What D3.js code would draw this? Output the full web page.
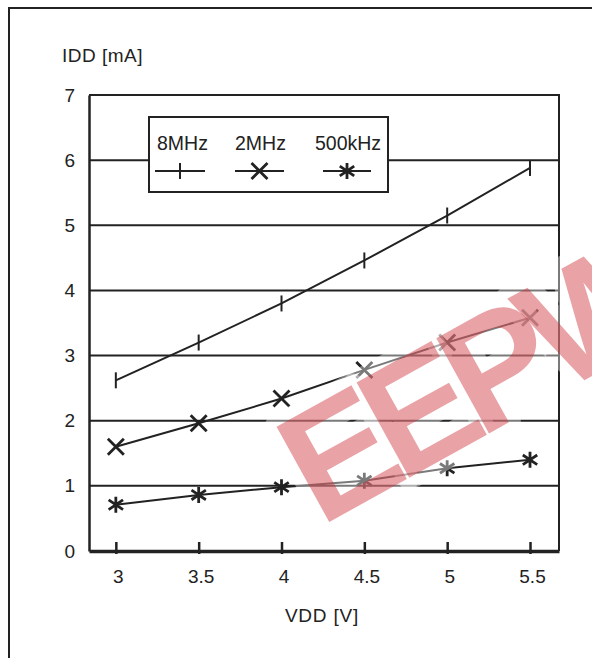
<!DOCTYPE html>
<html>
<head>
<meta charset="utf-8">
<script src="https://cdn.jsdelivr.net/npm/d3@7"></script>
<style>
  body { margin: 0; background: #fff; }
  svg { display: block; font-family: "Liberation Sans", Arial, sans-serif; }
</style>
</head>
<body>
<div id="chart"></div>
<script>
// supply current vs supply voltage, three clock frequencies
const vdd = [3, 3.5, 4, 4.5, 5, 5.5];
const idd8MHz = [2.62, 3.2, 3.8, 4.46, 5.15, 5.88];
const idd2MHz = [1.6, 1.96, 2.34, 2.78, 3.2, 3.58];
const idd500kHz = [0.71, 0.86, 0.98, 1.08, 1.27, 1.4];
const seriesNames = ["8MHz", "2MHz", "500kHz"];
const yTicks = [0, 1, 2, 3, 4, 5, 6, 7];

const W = 592, H = 658;
const M = {top: 95, left: 89, right: 559, bottom: 551};
const INK = "#222";
const FONT = "Liberation Sans, Arial, sans-serif";

const svg = d3.select("#chart").append("svg")
    .attr("width", W).attr("height", H);

// outer frame (right / bottom run off the page)
svg.append("rect")
    .attr("x", 9).attr("y", 8).attr("width", W).attr("height", H)
    .attr("fill", "none").attr("stroke", INK).attr("stroke-width", 2);

const x = d3.scaleLinear([2.838, 5.675], [M.left, M.right]);
const y = d3.scaleLinear([0, 7], [M.bottom, M.top]);

// horizontal grid lines
svg.append("g").selectAll("line")
    .data(yTicks.filter(d => d > 0 && d < 7))
    .join("line")
    .attr("x1", M.left).attr("x2", M.right)
    .attr("y1", d => y(d)).attr("y2", d => y(d))
    .attr("stroke", INK).attr("stroke-width", 2);

// plot frame: top and right
svg.append("path")
    .attr("d", `M${M.left},${y(7)}H${M.right}V${M.bottom}`)
    .attr("fill", "none").attr("stroke", INK).attr("stroke-width", 2);

// y axis
const yAxis = svg.append("g")
    .attr("transform", `translate(${M.left},0)`)
    .call(d3.axisLeft(y).tickValues(yTicks).tickSize(0).tickPadding(14).tickFormat(d3.format("d")));
yAxis.select(".domain").attr("stroke", INK).attr("stroke-width", 2.5);
yAxis.selectAll("text").attr("font-size", 19).attr("fill", INK).attr("font-family", FONT);

// x axis
const xAxis = svg.append("g")
    .attr("transform", `translate(0,${M.bottom})`)
    .call(d3.axisBottom(x).tickValues(vdd).tickSizeInner(3).tickSizeOuter(0).tickPadding(16)
        .tickFormat(d => String(d)));
xAxis.select(".domain").attr("stroke", INK).attr("stroke-width", 3.5);
xAxis.selectAll(".tick line")
    .attr("y1", -9).attr("y2", 3)
    .attr("stroke", INK).attr("stroke-width", 2.5);
xAxis.selectAll("text").attr("font-size", 19).attr("fill", INK).attr("font-family", FONT)
    .attr("dx", 2);

// axis titles
svg.append("text").attr("x", 62).attr("y", 62)
    .attr("font-size", 19).attr("letter-spacing", 0.5).attr("fill", INK).text("IDD [mA]");
svg.append("text").attr("x", 322).attr("y", 622)
    .attr("text-anchor", "middle").attr("font-size", 19).attr("letter-spacing", 0.8)
    .attr("fill", INK).text("VDD [V]");

// marker shapes
const S = 8;
const markers = {
    tick: `M0,${-S}V${S}`,
    cross: `M${-S},${-S}L${S},${S}M${-S},${S}L${S},${-S}`,
    star: `M0,${-S}V${S}M${-S * 0.9},${-S * 0.6}L${S * 0.9},${S * 0.6}M${-S * 0.9},${S * 0.6}L${S * 0.9},${-S * 0.6}`
};
const series = [
    {name: seriesNames[0], values: idd8MHz, marker: markers.tick, mw: 2},
    {name: seriesNames[1], values: idd2MHz, marker: markers.cross, mw: 2.8},
    {name: seriesNames[2], values: idd500kHz, marker: markers.star, mw: 2.8}
];

const line = d3.line().x((d, i) => x(vdd[i])).y(d => y(d));
series.forEach(s => {
    const g = svg.append("g");
    g.append("path").attr("d", line(s.values))
        .attr("fill", "none").attr("stroke", INK).attr("stroke-width", 2);
    g.selectAll("path.m").data(s.values).join("path").attr("class", "m")
        .attr("transform", (d, i) => `translate(${x(vdd[i])},${y(d)})`)
        .attr("d", s.marker)
        .attr("stroke", INK).attr("stroke-width", s.mw).attr("fill", "none");
});

// legend
const lg = svg.append("g");
lg.append("rect").attr("x", 149).attr("y", 117).attr("width", 239).attr("height", 75)
    .attr("fill", "#fff").attr("stroke", INK).attr("stroke-width", 2);
const legendX = [157, 235, 315];
const legendLine = [[155, 205], [235, 284], [323, 371]];
series.forEach((s, i) => {
    lg.append("text").attr("x", legendX[i]).attr("y", 150)
        .attr("font-size", 19.5).attr("fill", INK).text(s.name);
    lg.append("line").attr("x1", legendLine[i][0]).attr("x2", legendLine[i][1])
        .attr("y1", 171).attr("y2", 171).attr("stroke", INK).attr("stroke-width", 2);
    lg.append("path")
        .attr("transform", `translate(${(legendLine[i][0] + legendLine[i][1]) / 2},171)`)
        .attr("d", s.marker).attr("stroke", INK).attr("stroke-width", s.mw).attr("fill", "none");
});

// watermark with faint white halo
svg.append("text")
    .attr("transform", "translate(320,527) rotate(-29)")
    .attr("font-size", 158).attr("font-weight", "bold")
    .attr("letter-spacing", -14)
    .attr("fill", "rgb(205,43,52)").attr("fill-opacity", 0.44)
    .attr("stroke", "#fff").attr("stroke-opacity", 0.4).attr("stroke-width", 24)
    .attr("stroke-linejoin", "round")
    .attr("paint-order", "stroke")
    .text("EEPW");
</script>
</body>
</html>
